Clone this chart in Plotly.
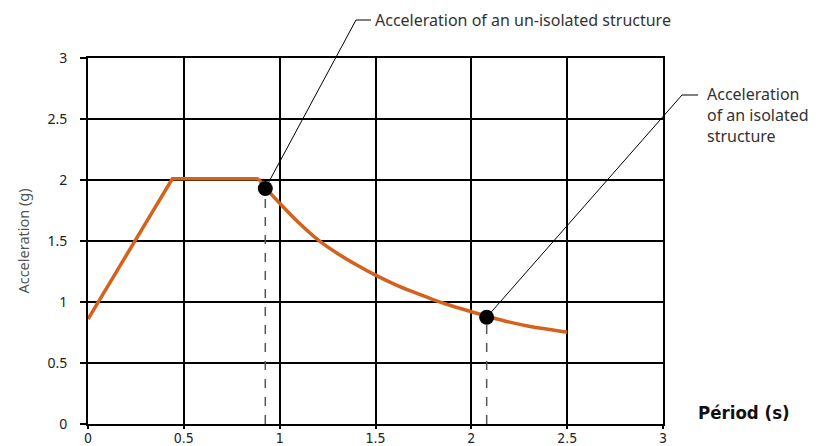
import plotly.graph_objects as go

# Spectrum: linear rise + plateau
rise_T = [0.0, 0.44, 0.89]
rise_A = [0.86, 2.01, 2.01]
# Decaying branch
decay_T = [0.89, 0.925, 1.0, 1.1, 1.2, 1.3, 1.4, 1.5, 1.6, 1.7, 1.8, 1.9,
           2.0, 2.1, 2.2, 2.3, 2.4, 2.5]
decay_A = [2.01, 1.94, 1.81, 1.65, 1.51, 1.40, 1.305, 1.22, 1.145, 1.08, 1.02, 0.967,
           0.92, 0.875, 0.835, 0.802, 0.776, 0.752]
# Marked points
pts_T = [0.925, 2.08]
pts_A = [1.93, 0.875]
pt_labels = ["Acceleration of an un-isolated structure",
             "Acceleration<br>of an isolated<br>structure"]
tick_vals = [0, 0.5, 1, 1.5, 2, 2.5, 3]
tick_text = ["0", "0.5", "1", "1.5", "2", "2.5", "3"]

ORANGE = "#D4621C"
FONT = "Noto Sans"
NARROW = "Liberation Sans Narrow, DejaVu Sans Condensed"

fig = go.Figure()
for t, a in zip(pts_T, pts_A):
    fig.add_trace(go.Scatter(x=[t, t], y=[0, a], mode="lines",
                             line=dict(color="#555555", width=1.5, dash="dash"),
                             showlegend=False, hoverinfo="skip"))
fig.add_trace(go.Scatter(x=rise_T, y=rise_A, mode="lines",
                         line=dict(color=ORANGE, width=3.5), showlegend=False))
fig.add_trace(go.Scatter(x=decay_T, y=decay_A, mode="lines",
                         line=dict(color=ORANGE, width=3.5, shape="spline", smoothing=0.6),
                         showlegend=False))
fig.add_trace(go.Scatter(x=pts_T, y=pts_A, mode="markers",
                         marker=dict(color="black", size=15), showlegend=False))

L, R, T, B = 88, 155, 58, 22
W, H = 818, 446
pw, ph = W - L - R, H - T - B

def px(x):
    return (x - L) / pw

def py(y):
    return (H - B - y) / ph

# leader lines (paper coords)
leaders = [
    [(pts_T[0] / 3, pts_A[0] / 3), (px(356), py(20)), (px(371), py(20))],
    [(pts_T[1] / 3, pts_A[1] / 3), (px(682), py(95)), (px(698), py(95))],
]
for seg in leaders:
    for (x0, y0), (x1, y1) in zip(seg[:-1], seg[1:]):
        fig.add_shape(type="line", xref="paper", yref="paper",
                      x0=x0, y0=y0, x1=x1, y1=y1,
                      line=dict(color="black", width=1))

fig.add_annotation(xref="paper", yref="paper", x=px(373), y=py(20),
                   text=pt_labels[0], showarrow=False, xanchor="left", yanchor="middle",
                   font=dict(family=FONT, size=16, color="#333333"))
fig.add_annotation(xref="paper", yref="paper", x=px(705), y=py(81),
                   text=pt_labels[1], showarrow=False, xanchor="left", yanchor="top",
                   align="left",
                   font=dict(family=FONT, size=16, color="#333333"))
fig.add_annotation(xref="paper", yref="paper", x=px(696), y=py(412),
                   text="<b>Périod (s)</b>", showarrow=False, xanchor="left", yanchor="middle",
                   font=dict(family=NARROW, size=18.5, color="#111111"))

axis_common = dict(range=[0, 3], tickvals=tick_vals, ticktext=tick_text,
                   showgrid=True, gridcolor="black", gridwidth=1.5,
                   showline=True, linecolor="black", linewidth=2, mirror=True,
                   zeroline=False, ticks="outside", tickcolor="black",
                   automargin=False)

fig.update_layout(
    width=W, height=H,
    margin=dict(l=L, r=R, t=T, b=B),
    paper_bgcolor="white", plot_bgcolor="white",
    xaxis=dict(axis_common, ticklen=3, tickwidth=1.5, ticklabelstandoff=-3,
               tickfont=dict(family=NARROW, size=14, color="#222222")),
    yaxis=dict(axis_common, ticklen=6, tickwidth=1.5, ticklabelstandoff=10,
               tickfont=dict(family=FONT, size=14, color="#222222"),
               title=dict(text="Acceleration (g)", standoff=14,
                          font=dict(family=FONT, size=14.5, color="#555555"))),
)

fig.write_html("out.html", config={"displayModeBar": False},
               post_script="document.body.style.margin='0';document.body.style.overflow='hidden';")
